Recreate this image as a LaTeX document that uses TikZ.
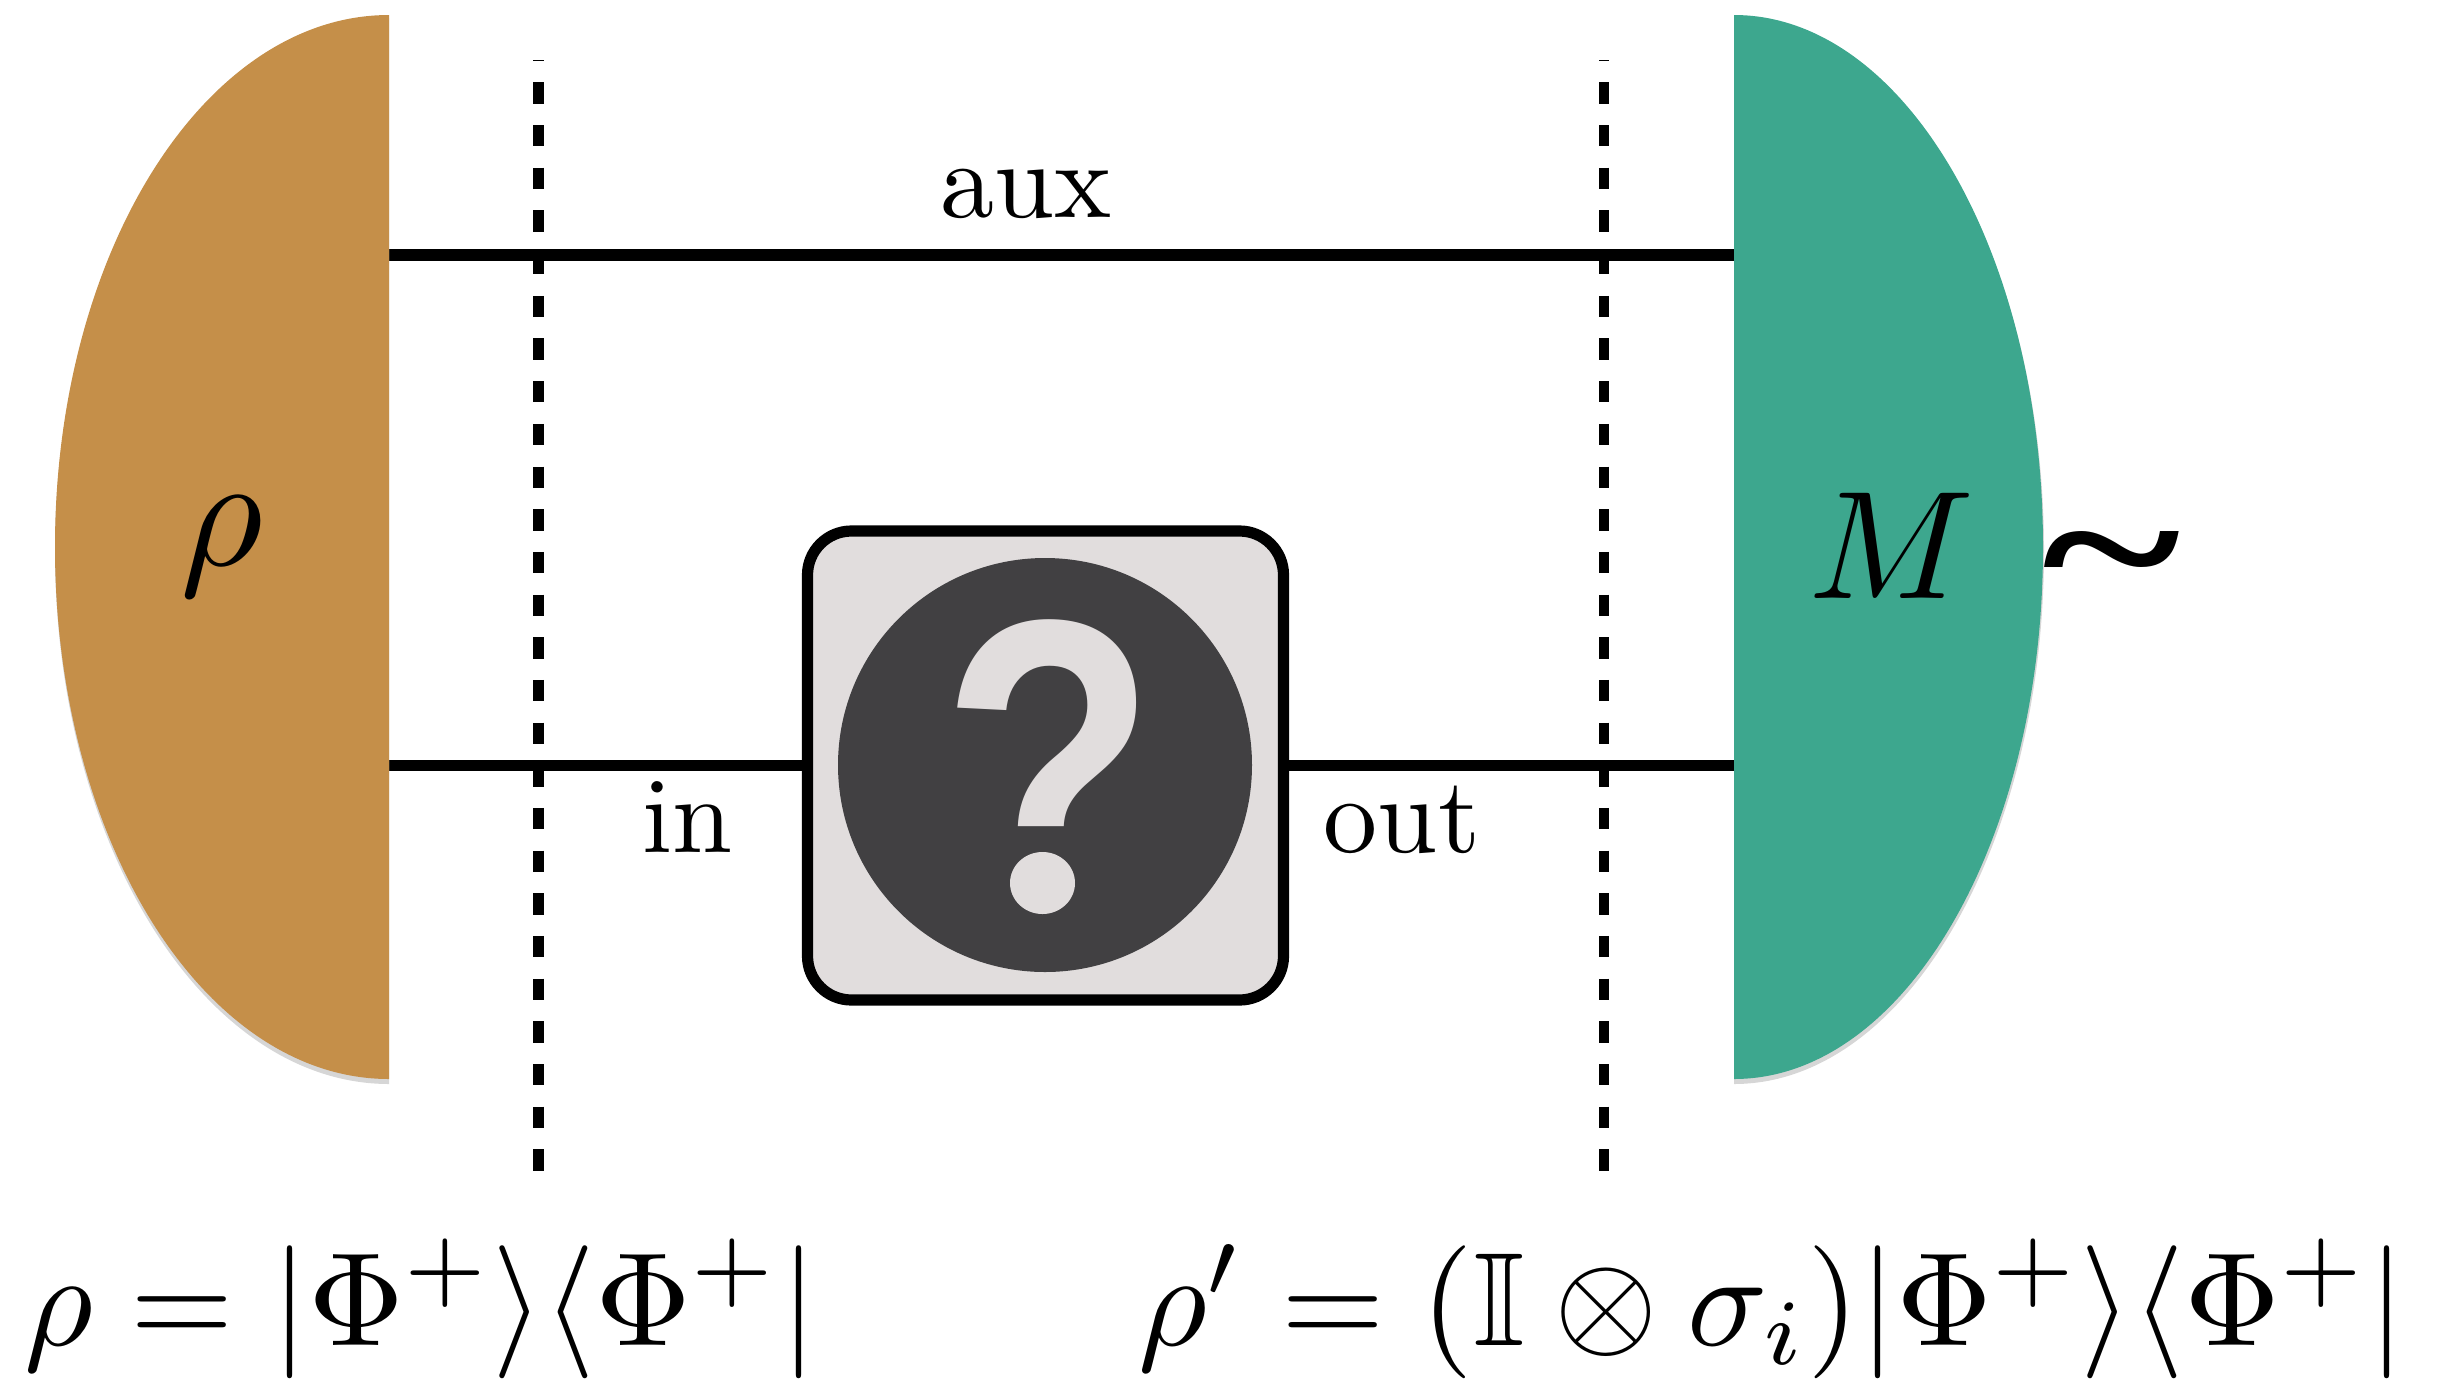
\documentclass[tikz,border=0pt]{standalone}
\usepackage{amsmath,amssymb}
\usepackage{fontspec}
\newfontfamily\qfont{Liberation Sans}
\newfontfamily\tfont{Liberation Serif}
\newcommand{\fs}[1]{\fontsize{#1}{#1}\selectfont}
\definecolor{ochre}{HTML}{C58F49}
\definecolor{teal2}{HTML}{3DA78E}
\definecolor{boxgrey}{HTML}{E1DDDD}
\definecolor{dark}{HTML}{414042}
\tikzset{
  wire/.style={line width=5.6pt,black},
  cutline/.style={line width=5.4pt,black,dash pattern=on 10.67pt off 10.67pt,dash phase=10.15pt},
  lab/.style={inner sep=0pt,outer sep=0pt,anchor=base},
  halo/.style={fill=black!16},
}
\begin{document}
\begin{tikzpicture}[x=0.5pt,y=-0.5pt]
\useasboundingbox (0,0) rectangle (2459,1378);
\clip (0,0) rectangle (2459,1378);
\coordinate (ltop) at (389,255);
\coordinate (lbot) at (389,765.5);
\coordinate (rtop) at (1734,255);
\coordinate (rbot) at (1734,765.5);
\coordinate (c1a) at (538.3,60);
\coordinate (c1b) at (538.3,1171);
\coordinate (c2a) at (1604,60);
\coordinate (c2b) at (1604,1171);
% wires and cuts
\draw[cutline] (c1a) -- (c1b);
\draw[cutline] (c2a) -- (c2b);
\draw[wire] (ltop) -- (rtop);
% box
\node[draw=black,line width=5.6pt,fill=boxgrey,rounded corners=22pt,minimum width=238pt,minimum height=234.5pt,inner sep=0pt] (box) at (1045.5,765.5) {};
\draw[wire] (lbot) -- (box.west);
\draw[wire] (box.east) -- (rbot);
\node[circle,fill=dark,minimum size=207pt,inner sep=0pt] (disc) at (1045,765) {};
\node[lab,text=boxgrey,xscale=.86,yscale=1.03] (qm) at (1049.5,914) {\qfont\bfseries\fs{205}?};
% round dot of the question mark
\path[fill=dark] (1000,836) rectangle (1090,925);
\path[fill=boxgrey] (1042.5,883) ellipse[x radius=32.5,y radius=31];
% half ellipses
\path[halo] (389,18) arc[start angle=270,end angle=90,x radius=334,y radius=533] -- cycle;
\path[fill=ochre] (389,15) arc[start angle=270,end angle=90,x radius=334,y radius=532] -- cycle;
\path[halo] (1734,18) arc[start angle=-90,end angle=90,x radius=310,y radius=533] -- cycle;
\path[fill=teal2] (1734,15) arc[start angle=-90,end angle=90,x radius=309,y radius=532] -- cycle;
% labels
\node[lab,scale=8] (rholab) at (222,565) {$\rho$};
\node[lab,scale=7.7] (mlab) at (1892,598) {$M$};
\node[lab,yscale=.72] (tilde) at (2111.5,612) {\tfont\bfseries\fs{133}\textasciitilde};
\node[lab,scale=5.4] (aux) at (1026,217) {aux};
\node[lab,scale=5.4] (inlab) at (688,852) {in};
\node[lab,scale=5.4] (out) at (1402,852) {out};
\node[lab,anchor=base west,scale=6.65] (f1) at (25,1345) {$\rho = |\Phi^+\rangle\langle\Phi^+|$};
\node[lab,anchor=base west,scale=6.65] (f2) at (1138,1345) {$\rho' = (\mathbb{I}\otimes\sigma_i)|\Phi^+\rangle\langle\Phi^+|$};
\end{tikzpicture}
\end{document}
